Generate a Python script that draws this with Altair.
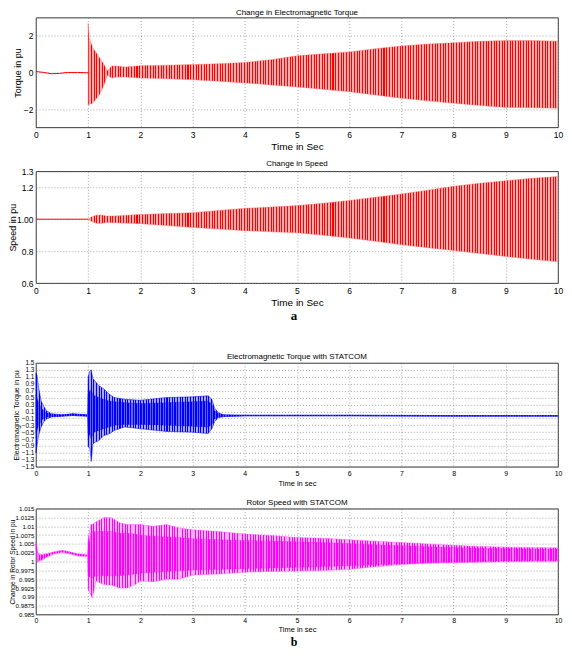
import altair as alt
import pandas as pd

FONT = "Liberation Sans"
X_TICKS = list(range(0, 11))

# ---------- Panel 1: Change in Electromagnetic Torque ----------
TQ_PRE_T = [0.0, 0.15, 0.3, 0.45, 0.6, 0.8, 1.0]
TQ_PRE_V = [0.05, 0.0, -0.07, -0.05, 0.0, 0.0, -0.02]
TQ_T = [1.0, 1.02, 1.09, 1.15, 1.22, 1.3, 1.37, 1.45, 1.55, 1.7, 2.0, 2.5, 3.0, 3.5,
        4.0, 4.5, 5.0, 5.5, 6.0, 6.5, 7.0, 7.5, 8.0, 8.5, 9.0, 9.5, 10.0]
TQ_HI = [2.69, 1.9, 1.35, 1.09, 0.8, 0.45, 0.1, 0.35, 0.35, 0.3, 0.37, 0.4, 0.43, 0.48,
         0.55, 0.7, 0.91, 1.02, 1.12, 1.3, 1.44, 1.55, 1.62, 1.7, 1.74, 1.74, 1.71]
TQ_LO = [-1.77, -1.75, -1.68, -1.45, -1.2, -0.7, -0.15, -0.3, -0.25, -0.25, -0.3, -0.35, -0.4, -0.48,
         -0.57, -0.68, -0.79, -0.92, -1.05, -1.23, -1.41, -1.55, -1.68, -1.8, -1.91, -1.93, -1.95]
TQ_YTICKS = [-2, 0, 2]

# ---------- Panel 2: Change in Speed ----------
SP_PRE_T = [0.0, 1.0]
SP_PRE_V = [1.0, 1.0]
SP_T = [1.0, 1.05, 1.15, 1.25, 1.35, 1.5, 2.0, 2.5, 3.0, 3.5, 4.0, 4.5, 5.0, 5.5, 6.0, 6.5,
        7.0, 7.5, 8.0, 8.5, 9.0, 9.5, 10.0]
SP_HI = [1.0, 1.012, 1.025, 1.027, 1.02, 1.02, 1.03, 1.035, 1.041, 1.055, 1.068, 1.076, 1.085,
         1.10, 1.117, 1.138, 1.158, 1.182, 1.206, 1.225, 1.241, 1.256, 1.267]
SP_LO = [1.0, 0.988, 0.975, 0.973, 0.98, 0.978, 0.972, 0.96, 0.948, 0.938, 0.928, 0.921, 0.915,
         0.9, 0.883, 0.862, 0.84, 0.822, 0.804, 0.785, 0.767, 0.75, 0.733]
SP_YTICKS = [0.6, 0.8, 1.0, 1.2, 1.3]

# ---------- Panel 3: Electromagnetic Torque with STATCOM ----------
ST_T = [0.0, 0.02, 0.05, 0.1, 0.15, 0.2, 0.3, 0.5, 0.7, 0.99, 1.0, 1.03, 1.06, 1.09, 1.12, 1.2,
        1.3, 1.4, 1.5, 1.7, 2.0, 2.5, 3.0, 3.3, 3.37, 3.42, 3.5, 3.6, 4.0, 6.0, 8.0, 10.0]
ST_HI = [1.2, 1.15, 0.8, 0.4, 0.25, 0.12, 0.03, 0.0, 0.03, 0.0, 1.1, 1.25, 1.3, 1.05, 1.0, 0.85,
         0.75, 0.6, 0.5, 0.45, 0.42, 0.5, 0.52, 0.55, 0.45, 0.2, 0.05, 0.0, -0.01, -0.01, -0.02, -0.02]
ST_LO = [-1.1, -0.9, -0.6, -0.35, -0.2, -0.12, -0.06, -0.04, -0.02, -0.04, -0.92, -0.95, -1.35, -0.85,
         -0.8, -0.75, -0.6, -0.55, -0.45, -0.35, -0.4, -0.48, -0.5, -0.54, -0.4, -0.2, -0.08, -0.05,
         -0.03, -0.03, -0.04, -0.04]
ST_CORE_HI = [0.6, 0.5, 0.35, 0.2, 0.12, 0.06, 0.02, 0.0, 0.03, 0.0, 0.6, 0.7, 0.7, 0.6, 0.55, 0.5,
              0.45, 0.4, 0.38, 0.35, 0.33, 0.35, 0.38, 0.4, 0.3, 0.12, 0.03, 0.0, -0.01, -0.01, -0.02, -0.02]
ST_CORE_LO = [-0.5, -0.45, -0.3, -0.18, -0.1, -0.07, -0.05, -0.04, -0.02, -0.04, -0.5, -0.6, -0.7, -0.55,
              -0.5, -0.45, -0.4, -0.35, -0.3, -0.28, -0.28, -0.3, -0.33, -0.35, -0.28, -0.12, -0.06, -0.05,
              -0.03, -0.03, -0.04, -0.04]
ST_YTICKS = [-1.5, -1.3, -1.1, -0.9, -0.7, -0.5, -0.3, -0.1, 0.1, 0.3, 0.5, 0.7, 0.9, 1.1, 1.3, 1.5]

# ---------- Panel 4: Rotor Speed with STATCOM ----------
RS_T = [0.0, 0.03, 0.06, 0.1, 0.2, 0.35, 0.5, 0.65, 0.8, 0.99, 1.0, 1.05, 1.08, 1.15, 1.3, 1.45,
        1.6, 1.75, 1.9, 2.0, 2.25, 2.5, 2.75, 3.0, 3.5, 4.0, 4.5, 5.0, 5.5, 6.0, 6.5, 7.0, 7.5,
        8.0, 8.5, 9.0, 9.5, 10.0]
RS_HI = [1.0055, 1.003, 1.0022, 1.002, 1.0022, 1.0028, 1.0032, 1.0028, 1.0022, 1.002, 1.0065,
         1.0105, 1.0105, 1.0112, 1.0125, 1.0124, 1.011, 1.0105, 1.0105, 1.0105, 1.01, 1.0105,
         1.0095, 1.009, 1.0085, 1.0078, 1.0074, 1.0068, 1.0066, 1.0062, 1.0058, 1.0054, 1.005,
         1.0046, 1.0043, 1.0041, 1.004, 1.0039]
RS_LO = [1.004, 0.9998, 1.0, 1.0003, 1.0012, 1.0022, 1.0026, 1.0022, 1.0016, 1.0014, 0.992,
         0.9905, 0.9897, 0.9945, 0.9935, 0.9933, 0.9925, 0.9925, 0.9935, 0.9945, 0.9943, 0.995,
         0.995, 0.9962, 0.9965, 0.997, 0.9972, 0.9973, 0.9975, 0.9978, 0.9985, 0.9992, 0.9995,
         0.9997, 0.9998, 0.99995, 1.0, 1.0]
RS_CORE_HI = [1.005, 1.0025, 1.0019, 1.0017, 1.002, 1.0026, 1.003, 1.0026, 1.002, 1.0018, 1.004,
              1.008, 1.0085, 1.0085, 1.0085, 1.0085, 1.008, 1.008, 1.0078, 1.0075, 1.0072, 1.007,
              1.0068, 1.0065, 1.0062, 1.006, 1.0058, 1.0056, 1.0054, 1.0051, 1.0048, 1.0045, 1.0042,
              1.004, 1.0038, 1.0037, 1.0036, 1.0036]
RS_CORE_LO = [1.0045, 1.0, 1.0003, 1.0005, 1.0014, 1.0024, 1.0028, 1.0024, 1.0018, 1.0016, 0.996,
              0.9955, 0.9955, 0.996, 0.996, 0.996, 0.996, 0.9962, 0.9965, 0.9967, 0.997, 0.9972,
              0.9974, 0.9976, 0.9978, 0.998, 0.9982, 0.9984, 0.9986, 0.9988, 0.9991, 0.9994, 0.9997,
              0.9999, 1.0, 1.0002, 1.0003, 1.0003]
RS_YTICKS = [0.985, 0.9875, 0.99, 0.9925, 0.995, 0.9975, 1.0, 1.0025, 1.005, 1.0075, 1.01, 1.0125, 1.015]

W = 523
GRID = dict(grid=True, gridDash=[1, 2], gridColor="#808080", gridWidth=0.7,
            ticks=False, domain=False, labelFont=FONT, titleFont=FONT,
            labelColor="black", titleColor="black", titleFontWeight="normal",
            labelFlush=False, labelOverlap=False)


def stripes(dark, light, n, duty):
    """Hatched fill that mimics the dense oscillation of the simulated traces."""
    stops = []
    for i in range(n):
        a, b, c = round(i / n, 6), round((i + duty) / n, 6), round((i + 1) / n, 6)
        stops += [alt.GradientStop(color=dark, offset=a), alt.GradientStop(color=dark, offset=b),
                  alt.GradientStop(color=light, offset=b), alt.GradientStop(color=light, offset=c)]
    return alt.Gradient(gradient="linear", stops=stops, x1=0, x2=1, y1=0, y2=0)


def xaxis(title, lsize, tsize, ty, lpad):
    return alt.Axis(values=X_TICKS, format="d", labelFontSize=lsize, labelPadding=lpad,
                    title=title, titleFontSize=tsize, titleY=ty, titleBaseline="alphabetic",
                    **GRID)


def yaxis(title, values, fmt, lsize, tsize, tx, H, label_expr=None, lpad=3):
    kw = dict(values=values, format=fmt, labelFontSize=lsize, labelPadding=lpad,
              title=title, titleFontSize=tsize, titleX=tx, titleY=H / 2,
              titleAngle=270, titleBaseline="alphabetic", titleAlign="center", **GRID)
    if label_expr:
        kw["labelExpr"] = label_expr
    return alt.Axis(**kw)


def text_layer(s, x, y, size, font=FONT, weight="normal"):
    return alt.Chart(pd.DataFrame({"s": [s]})).mark_text(
        font=font, fontSize=size, fontWeight=weight, baseline="alphabetic", align="center",
        color="black").encode(text="s:N", x=alt.value(x), y=alt.value(y))


def band(t, lo, hi, fill, stroke, sw, ydom, xax, yax):
    df = pd.DataFrame({"t": t, "lo": lo, "hi": hi})
    return alt.Chart(df).mark_area(color=fill, stroke=stroke, strokeWidth=sw, opacity=1).encode(
        x=alt.X("t:Q", scale=alt.Scale(domain=[0, 10], nice=False, zero=False), axis=xax),
        y=alt.Y("lo:Q", scale=alt.Scale(domain=ydom, nice=False, zero=False), axis=yax),
        y2="hi:Q")


def line(t, v, color, ydom, xax, yax, sw=1.0):
    df = pd.DataFrame({"t": t, "lo": v})
    return alt.Chart(df).mark_line(color=color, strokeWidth=sw).encode(
        x=alt.X("t:Q", scale=alt.Scale(domain=[0, 10], nice=False, zero=False), axis=xax),
        y=alt.Y("lo:Q", scale=alt.Scale(domain=ydom, nice=False, zero=False), axis=yax))


def spacer(h):
    return alt.Chart(pd.DataFrame({"s": [""]})).mark_text(opacity=0).encode(
        text="s:N", x=alt.value(0), y=alt.value(0)
    ).properties(width=W, height=h, view=alt.ViewBackground(strokeOpacity=0))


RED_FILL = stripes("#ff0000", "#ffacac", 175, 0.38)

# Panel 1
H1 = 110
d1 = [-3, 3]
x1 = xaxis("Time in Sec", 8.5, 10, 22, 3)
y1 = yaxis("Torque in pu", TQ_YTICKS, "d", 8.5, 9, -15, H1)
p1 = alt.layer(
    band(TQ_T, TQ_LO, TQ_HI, RED_FILL, "#ff6a6a", 0.4, d1, x1, y1),
    line(TQ_PRE_T, TQ_PRE_V, "#ff0000", d1, x1, y1),
    text_layer("Change in Electromagnetic Torque", W / 2, -2.5, 8),
).properties(width=W, height=H1)

# Panel 2
H2 = 112
d2 = [0.6, 1.3]
x2 = xaxis("Time in Sec", 8.5, 10, 22, 3)
y2 = yaxis("Speed in pu", SP_YTICKS, ".1f", 8.5, 9, -20, H2,
           label_expr="datum.value == 1 ? '1.00' : datum.label")
p2 = alt.layer(
    band(SP_T, SP_LO, SP_HI, RED_FILL, "#ff6a6a", 0.4, d2, x2, y2),
    line(SP_PRE_T, SP_PRE_V, "#ff0000", d2, x2, y2),
    text_layer("Change in  Speed", W / 2, -5, 8),
    text_layer("a", W / 2 - 3, H2 + 37, 13, font="Liberation Serif", weight="bold"),
).properties(width=W, height=H2)

# Panel 3
H3 = 104
d3 = [-1.5, 1.5]
x3 = xaxis("Time in sec", 7, 7.5, 18.5, 3)
y3 = yaxis("Electromagnetic Torque in pu", ST_YTICKS, ".1f", 6.5, 7, -17, H3, lpad=2)
p3 = alt.layer(
    band(ST_T, ST_LO, ST_HI, stripes("#0000ff", "#a8a8ff", 200, 0.4), "#0000ff", 0.5, d3, x3, y3),
    band(ST_T, ST_CORE_LO, ST_CORE_HI, stripes("#0000ff", "#6060ff", 200, 0.6), "#0000ff", 0.3,
         d3, x3, y3),
    text_layer("Electromagnetic Torque with STATCOM", W / 2, -4, 8),
).properties(width=W, height=H3)

# Panel 4
H4 = 106
d4 = [0.985, 1.015]
x4 = xaxis("Time in sec", 7, 7.5, 17, 2.5)
y4 = yaxis("Change in Rotor Speed in pu", RS_YTICKS, ".4~f", 6.2, 6.6, -21.5, H4, lpad=2)
p4 = alt.layer(
    band(RS_T, RS_LO, RS_HI, stripes("#ff00ff", "#ffb4ff", 200, 0.35), "#ff40ff", 0.4, d4, x4, y4),
    band(RS_T, RS_CORE_LO, RS_CORE_HI, stripes("#ff00ff", "#ff7cff", 200, 0.55), "#ff00ff", 0.3,
         d4, x4, y4),
    text_layer("Rotor Speed with STATCOM", W / 2, -3.5, 8),
    text_layer("b", W / 2 - 3, H4 + 32, 12, font="Liberation Serif", weight="bold"),
).properties(width=W, height=H4)

chart = alt.vconcat(
    p1, spacer(44), p2, spacer(80), p3, spacer(42), p4,
    spacing=0, bounds="flush"
).properties(padding=0).configure_view(stroke="black", strokeWidth=0.8)

chart.save("out.html", embed_options={"renderer": "svg", "actions": False})
